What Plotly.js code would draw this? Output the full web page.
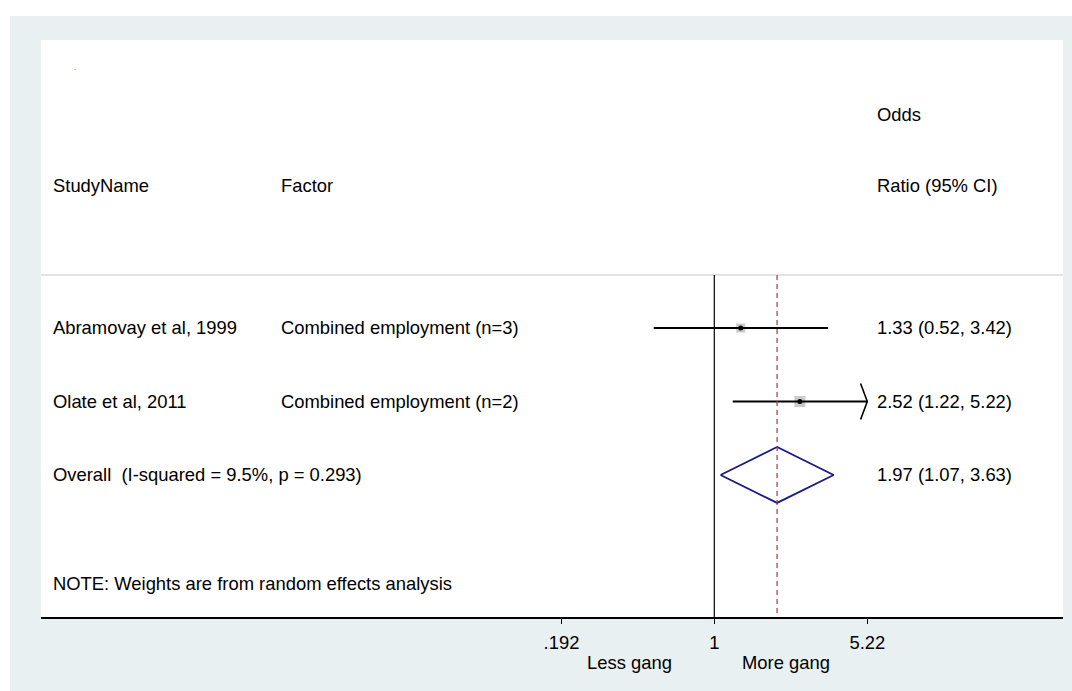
<!DOCTYPE html>
<html>
<head>
<meta charset="utf-8">
<script src="https://cdn.plot.ly/plotly-3.0.1.min.js"></script>
<style>
  html, body { margin: 0; padding: 0; background: #ffffff; }
  #plot { position: absolute; left: 10px; top: 16px; width: 1062px; height: 675px; }
</style>
</head>
<body>
<div id="plot"></div>
<script>
// ---- data ----
const studyNames = ['Abramovay et al, 1999', 'Olate et al, 2011'];
const factors = ['Combined employment (n=3)', 'Combined employment (n=2)'];
const oddsRatio = [1.33, 2.52];
const ciLow = [0.52, 1.22];
const ciHigh = [3.42, 5.22];
const boxSizes = [9, 11];
const studyRows = [1, 2];

const overallLabel = 'Overall\u00a0 (I-squared = 9.5%, p = 0.293)';
const overallOR = 1.97;
const overallLow = 1.07;
const overallHigh = 3.63;
const overallRow = 3;

const tickVals = [0.192, 1, 5.22];
const tickText = ['.192', '1', '5.22'];
const axisMax = 5.22;
const noteText = 'NOTE: Weights are from random effects analysis';
const favourLabels = ['Less gang', 'More gang'];

// ---- layout helpers ----
const FONT = 'Liberation Sans, Arial, sans-serif';
const FS = 18.4;
const yTop = -2.918, yBottom = 4.932;   // y-axis range (rows, reversed)
const sepY = 0.279;                     // separator line under header
const fmt = v => v.toFixed(2);
const ratioText = (e, l, h) => `${fmt(e)} (${fmt(l)}, ${fmt(h)})`;

const traces = [];

// weight boxes
traces.push({
  type: 'scatter', mode: 'markers',
  x: oddsRatio, y: studyRows,
  marker: { symbol: 'square', size: boxSizes, color: '#b4b4b4', line: { width: 0 } },
  hoverinfo: 'skip'
});

// CI lines
studyRows.forEach((r, i) => {
  const hiDraw = Math.min(ciHigh[i], axisMax);
  traces.push({
    type: 'scatter', mode: 'lines',
    x: [ciLow[i], hiDraw], y: [r, r],
    line: { color: '#000000', width: 2 },
    hoverinfo: 'skip'
  });
  if (ciHigh[i] >= axisMax) {
    // arrow head at axis max
    traces.push({
      type: 'scatter', mode: 'lines',
      x: [axisMax * 0.93, axisMax, axisMax * 0.93], y: [r - 0.245, r, r + 0.245],
      line: { color: '#000000', width: 1.6 },
      hoverinfo: 'skip'
    });
  }
});

// center dots
traces.push({
  type: 'scatter', mode: 'markers',
  x: oddsRatio, y: studyRows,
  marker: { symbol: 'circle', size: 5, color: '#000000' },
  hoverinfo: 'skip'
});

// overall diamond
const dh = 0.38;
traces.push({
  type: 'scatter', mode: 'lines',
  x: [overallLow, overallOR, overallHigh, overallOR, overallLow],
  y: [overallRow, overallRow - dh, overallRow, overallRow + dh, overallRow],
  line: { color: '#1a1a84', width: 1.8 },
  hoverinfo: 'skip'
});

// ---- annotations ----
const ann = [];
const colStudy = 0.0103, colFactor = 0.2338, colRatio = 0.817;
const txt = (text, x, y, yref, extra) => Object.assign({
  text, x, y, xref: 'paper', yref, xanchor: 'left', yanchor: 'middle',
  showarrow: false, borderpad: 0, font: { family: FONT, size: FS, color: '#000000' }
}, extra || {});

ann.push(txt('.', 0.031, -2.55, 'y', { font: { family: FONT, size: 8, color: '#666666' } }));
ann.push(txt('Odds', colRatio, -1.898, 'y'));
ann.push(txt('StudyName', colStudy, -0.932, 'y'));
ann.push(txt('Factor', colFactor, -0.932, 'y'));
ann.push(txt('Ratio (95% CI)', colRatio, -0.932, 'y'));
studyRows.forEach((r, i) => {
  ann.push(txt(studyNames[i], colStudy, r, 'y'));
  ann.push(txt(factors[i], colFactor, r, 'y'));
  ann.push(txt(ratioText(oddsRatio[i], ciLow[i], ciHigh[i]), colRatio, r, 'y'));
});
ann.push(txt(overallLabel, colStudy, overallRow, 'y'));
ann.push(txt(ratioText(overallOR, overallLow, overallHigh), colRatio, overallRow, 'y'));
ann.push(txt(noteText, colStudy, 4.47, 'y'));
ann.push(txt(favourLabels[0], 0.5763, -0.0797, 'paper', { xanchor: 'center' }));
ann.push(txt(favourLabels[1], 0.7287, -0.0797, 'paper', { xanchor: 'center' }));

// ---- shapes ----
const shapes = [
  { type: 'line', xref: 'paper', yref: 'y', x0: 0, x1: 1, y0: sepY, y1: sepY,
    line: { color: '#c8c8c8', width: 1.2 } },
  { type: 'line', xref: 'x', yref: 'y', x0: 1, x1: 1, y0: sepY, y1: yBottom,
    line: { color: '#000000', width: 1.2 } },
  { type: 'line', xref: 'x', yref: 'y', x0: overallOR, x1: overallOR, y0: sepY, y1: yBottom,
    line: { color: '#a33a3a', width: 1.2, dash: '5px,4px' } }
];

const layout = {
  width: 1062, height: 675,
  margin: { l: 31, r: 9, t: 24, b: 74, pad: 0 },
  paper_bgcolor: '#e9f0f2',
  plot_bgcolor: '#ffffff',
  showlegend: false,
  hovermode: false,
  xaxis: {
    type: 'log',
    range: [-3.158, 1.6356],
    tickvals: tickVals, ticktext: tickText,
    ticks: 'outside', ticklen: 5, tickwidth: 1.2, tickcolor: '#000000',
    showline: true, linecolor: '#000000', linewidth: 1.5,
    showgrid: false, zeroline: false,
    ticklabelstandoff: 3,
    tickfont: { family: FONT, size: FS, color: '#000000' },
    fixedrange: true
  },
  yaxis: {
    range: [yBottom, yTop],
    showticklabels: false, ticks: '', showgrid: false, zeroline: false, showline: false,
    fixedrange: true
  },
  annotations: ann,
  shapes: shapes
};

Plotly.newPlot('plot', traces, layout, { displayModeBar: false, staticPlot: true });
</script>
</body>
</html>
